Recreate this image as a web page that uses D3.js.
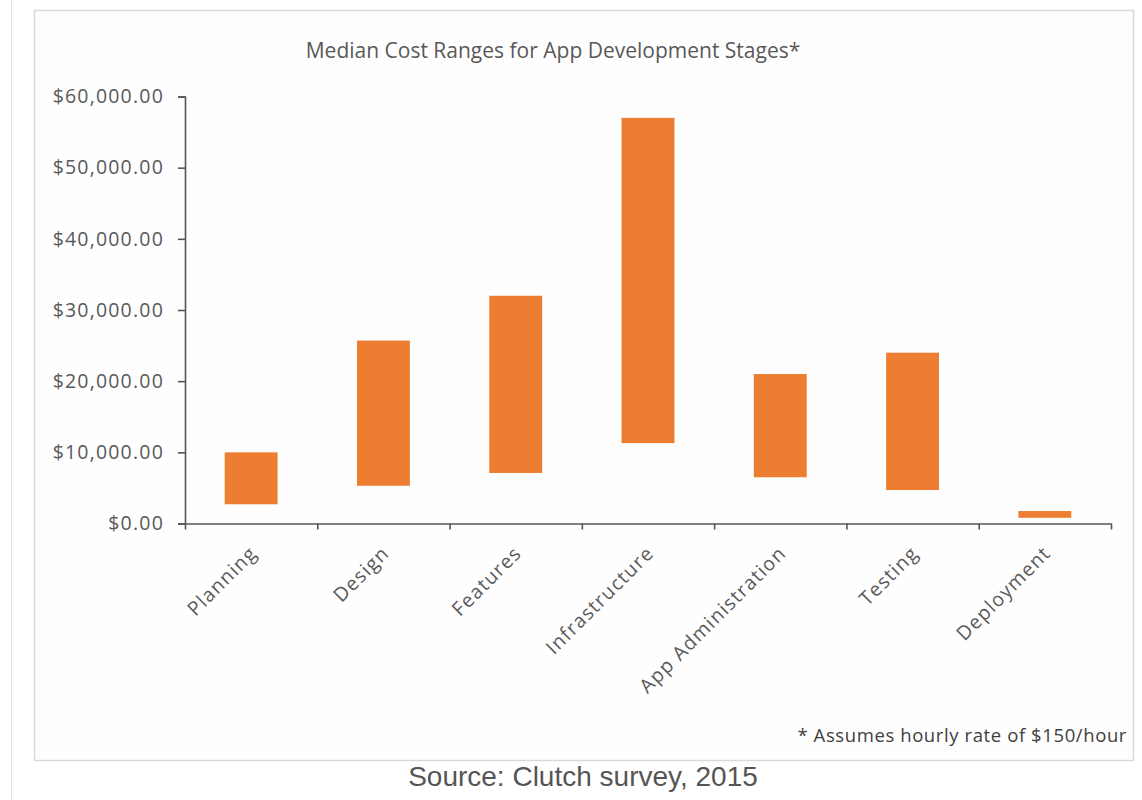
<!DOCTYPE html>
<html>
<head>
<meta charset="utf-8">
<script src="https://cdn.jsdelivr.net/npm/d3@7"></script>
<style>
  html, body { margin: 0; padding: 0; background: #ffffff; }
  svg { display: block; }
</style>
</head>
<body>
<script>
const categories = ["Planning", "Design", "Features", "Infrastructure", "App Administration", "Testing", "Deployment"];
const lowValues  = [2700, 5300, 7100, 11300, 6500, 4700, 800];
const highValues = [10000, 25700, 32000, 57000, 21000, 24000, 1750];
const yTicks = [0, 10000, 20000, 30000, 40000, 50000, 60000];
const titleText = "Median Cost Ranges for App Development Stages*";
const footnoteText = "* Assumes hourly rate of $150/hour";
const sourceText = "Source: Clutch survey, 2015";

const W = 1142, H = 800;
const svg = d3.select("body").append("svg").attr("width", W).attr("height", H);

// outer page line
svg.append("line").attr("x1", 11.5).attr("x2", 11.5).attr("y1", 0).attr("y2", H)
  .attr("stroke", "#e3e3e3").attr("stroke-width", 1);

// chart frame
svg.append("rect").attr("x", 34.5).attr("y", 10.5).attr("width", 1099).attr("height", 750)
  .attr("fill", "#fefefe").attr("stroke", "#d9d9d9").attr("stroke-width", 1.5);

const plotLeft = 185, plotRight = 1111, plotTop = 96.5, plotBottom = 523.5;

const x = d3.scaleBand().domain(categories).range([plotLeft, plotRight])
  .paddingInner(0.6).paddingOuter(0.3);
const y = d3.scaleLinear().domain([0, 60000]).range([plotBottom, plotTop]);

const axisColor = "#555555";
const labelColor = "#595959";
const font = "'Open Sans', sans-serif";

// bars
svg.append("g").selectAll("rect").data(categories).join("rect")
  .attr("x", d => x(d))
  .attr("width", x.bandwidth())
  .attr("y", (d, i) => y(highValues[i]))
  .attr("height", (d, i) => y(lowValues[i]) - y(highValues[i]))
  .attr("fill", "#ec7d31");

// y axis
const yAxis = svg.append("g").attr("transform", `translate(${plotLeft},0)`)
  .call(d3.axisLeft(y).tickValues(yTicks).tickSize(7).tickPadding(14)
    .tickFormat(d => "$" + d3.format(",.2f")(d)));
yAxis.select(".domain").attr("stroke", axisColor).attr("stroke-width", 1.6);
yAxis.selectAll(".tick line").attr("stroke", axisColor).attr("stroke-width", 1.6);
yAxis.selectAll(".tick text").attr("fill", labelColor).attr("font-family", font)
  .attr("font-size", 19.5).attr("letter-spacing", 1.2);

// x axis (ticks at category boundaries)
const xb = d3.scaleLinear().domain([0, categories.length]).range([plotLeft, plotRight]);
const xAxis = svg.append("g").attr("transform", `translate(0,${plotBottom})`)
  .call(d3.axisBottom(xb).tickValues(d3.range(categories.length + 1)).tickSize(6).tickSizeOuter(0).tickFormat(""));
xAxis.select(".domain").attr("stroke", axisColor).attr("stroke-width", 1.6);
xAxis.selectAll(".tick line").attr("stroke", axisColor).attr("stroke-width", 1.6);

// category labels
svg.append("g").selectAll("text").data(categories).join("text")
  .attr("transform", d => `translate(${x(d) + x.bandwidth() / 2 + 7},${plotBottom + 31}) rotate(-45)`)
  .attr("text-anchor", "end")
  .attr("font-family", font).attr("font-size", 19.5).attr("letter-spacing", 1.2)
  .attr("fill", labelColor)
  .text(d => d);

// title
svg.append("text").attr("x", 553).attr("y", 58).attr("text-anchor", "middle")
  .attr("font-family", font).attr("font-size", 21).attr("fill", labelColor)
  .text(titleText);

// footnote
svg.append("text").attr("x", 1127).attr("y", 742).attr("text-anchor", "end")
  .attr("font-family", font).attr("font-size", 18.5).attr("letter-spacing", 0.6).attr("fill", "#404040")
  .text(footnoteText);

// source
svg.append("text").attr("x", 583).attr("y", 786).attr("text-anchor", "middle")
  .attr("font-family", "'Liberation Sans', Arial, sans-serif").attr("font-size", 28).attr("fill", "#555555")
  .text(sourceText);
</script>
</body>
</html>
